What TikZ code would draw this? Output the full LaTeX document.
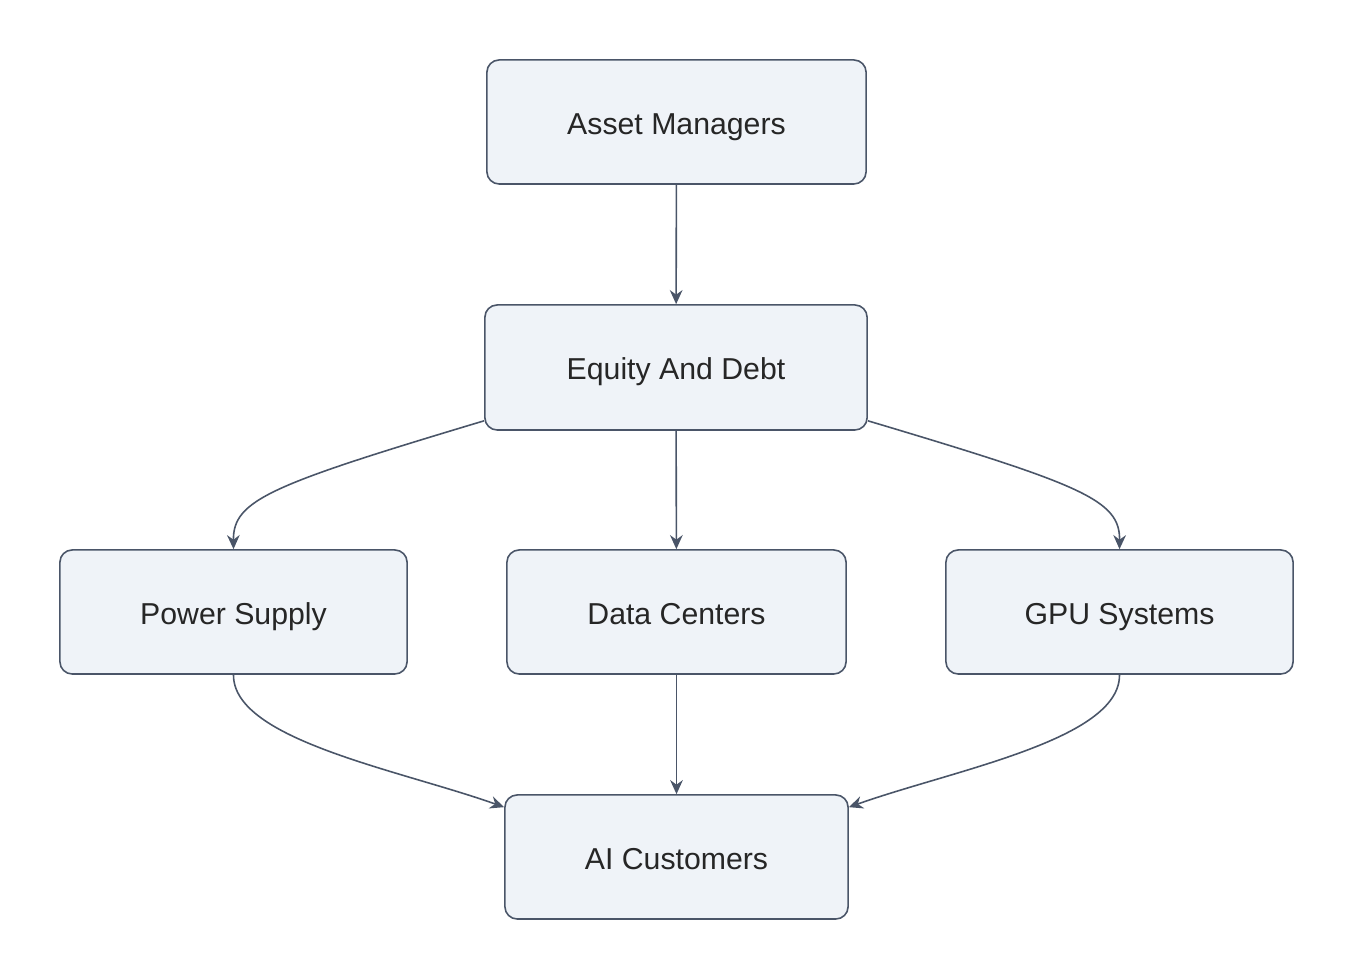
\documentclass[tikz,border=0pt]{standalone}
\usepackage{fontspec}
\setmainfont{Liberation Sans}
\usetikzlibrary{arrows.meta}
\definecolor{boxfill}{HTML}{EFF3F8}
\definecolor{boxline}{HTML}{4A5568}
\begin{document}
\begin{tikzpicture}[x=0.01cm, y=-0.01cm]
    \tikzset{box/.style={rectangle, draw=boxline, fill=boxfill, line width=0.45pt, rounded corners=3.5pt,
        minimum height=1.24cm, text height=1.75ex, text depth=0.45ex,
        font=\fontsize{8.6}{10}\selectfont, text=black!85},
      flow/.style={draw=boxline, line width=0.45pt, -{Stealth[length=4pt, width=3.6pt]}}}
    \useasboundingbox (0,0) rectangle (1354,980);

    \node [box, minimum width=3.79cm] (am) at (676.5,122) {Asset Managers};
    \node [box, minimum width=3.82cm, minimum height=1.25cm] (ed) at (676,367.5) {Equity And Debt};
    \node [box, minimum width=3.47cm] (ps) at (233.5,612) {Power Supply};
    \node [box, minimum width=3.39cm] (dc) at (676.5,612) {Data Centers};
    \node [box, minimum width=3.47cm] (gpu) at (1119.5,612) {GPU Systems};
    \node [box, minimum width=3.43cm] (ai) at (676.5,857) {AI Customers};

    \draw [flow] (am) -- (ed);
    \draw [flow] (ed) -- (dc);
    \draw [flow] (dc) -- (ai);
    \draw [flow] ([yshift=0.1cm]ed.south west) .. controls (270,485) and (233,500) .. (ps.north);
    \draw [flow] ([yshift=0.1cm]ed.south east) .. controls (1083,485) and (1120,500) .. (gpu.north);
    \draw [flow] (ps.south) .. controls (233,740) and (400,770) .. ([yshift=-0.13cm]ai.north west);
    \draw [flow] (gpu.south) .. controls (1120,740) and (953,770) .. ([yshift=-0.13cm]ai.north east);
\end{tikzpicture}
\end{document}
